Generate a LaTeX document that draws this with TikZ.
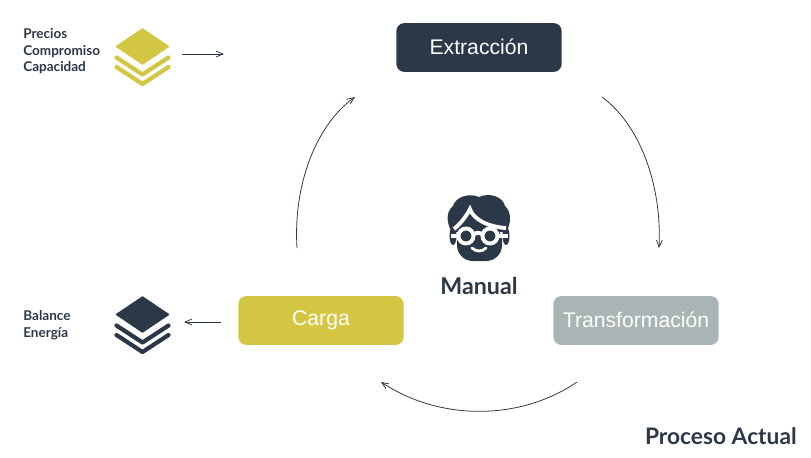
\documentclass[tikz,border=0pt]{standalone}
\usepackage{fontspec}
\setmainfont{Liberation Sans}
\newfontfamily\latofont{Lato}
\usetikzlibrary{arrows,positioning}
\definecolor{navyc}{HTML}{2B3847}
\definecolor{goldc}{HTML}{D3C642}
\definecolor{grayc}{HTML}{A9B4B4}
\tikzstyle{box} = [rounded corners=8*0.5669pt, minimum width=166*0.5669pt, minimum height=49*0.5669pt, inner sep=0pt, text=white, font=\fontsize{12.05}{14}\selectfont]
\tikzstyle{side} = [align=left, inner sep=0pt, text=navyc, font=\latofont\bfseries\fontsize{7.7}{9.4}\selectfont]
\tikzstyle{flow} = [draw=navyc, line width=0.45pt, ->, >=angle 45]
\tikzstyle{rim} = [white, line width=2.2pt]
\begin{document}
\begin{tikzpicture}[x=0.02cm, y=-0.02cm]
	\useasboundingbox (0,0) rectangle (811,457);

	\node [box, fill=navyc] (extraccion) at (479,47.5) {\raisebox{1.1pt}{Extracción}};
	\node [box, fill=grayc] (transformacion) at (636,320.5) {\raisebox{0.6pt}{Transformación}};
	\node [box, fill=goldc] (carga) at (321,320.5) {\raisebox{0.6pt}{Carga}};

	% capas
	\foreach \y/\c in {0/goldc, 268/navyc}{
		\begin{scope}[yshift=-\y*0.02cm]
		\fill [\c, draw=\c, line width=0.8pt, line join=round] (142.5,29) -- (168.5,46.5) -- (142.5,64) -- (116.5,46.5) -- cycle;
		\draw [\c, line width=2.4pt, line cap=round, line join=round] (116.5,57.5) -- (142.5,74.5) -- (168.5,57.5);
		\draw [\c, line width=2.4pt, line cap=round, line join=round] (116.5,67) -- (142.5,84) -- (168.5,67);
		\end{scope}
	}

	\node [side, anchor=west] (entrada) at (23,51.5) {Precios\\Compromiso\\Capacidad};
	\node [side, anchor=west] (salida) at (23,325) {Balance\\Energía};

	\coordinate (a1) at (182,54);
	\coordinate (a2) at (224,54);
	\coordinate (b1) at (221,322);
	\coordinate (b2) at (184,322);
	\draw [flow] (a1) -- (a2);
	\draw [flow] (b1) -- (b2);

	\coordinate (c1) at (602,97);
	\coordinate (c2) at (659,248);
	\coordinate (d1) at (577,382);
	\coordinate (d2) at (381,382);
	\coordinate (e1) at (297,248);
	\coordinate (e2) at (355,97);
	\draw [flow] (c1) .. controls (640,125) and (662,185) .. (c2);
	\draw [flow] (d1) .. controls (520,421) and (440,421) .. (d2);
	\draw [flow] (e1) .. controls (293,185) and (316,125) .. (e2);

	% cara
	\fill [navyc] (452,232) .. controls (447,225) and (445,212) .. (453,206)
		.. controls (456,196) and (470,193) .. (479,197)
		.. controls (490,192) and (503,197) .. (505,206)
		.. controls (512,212) and (511,225) .. (506,232) -- cycle;
	\fill [navyc, rounded corners=9pt] (457,225) -- (457,261) -- (502,261) -- (502,225) -- cycle;
	\fill [navyc] (453,236) ellipse (3.5 and 9);
	\fill [navyc] (506,236) ellipse (3.5 and 9);
	\draw [rim] (451,236) -- (459,236);
	\draw [rim] (498,236) -- (508,236);
	\draw [rim] (473,235) .. controls (476,232) and (480,232) .. (483,235);
	\draw [rim] (466,236) circle (7.5);
	\draw [rim] (490,236) circle (7.5);
	\draw [rim] (454,229) .. controls (460,224) and (466,217) .. (470,209) .. controls (473,219) and (488,227) .. (506,228);
	\draw [white, line width=1.6pt, line cap=round] (472,248) .. controls (476,252) and (482,252) .. (486,248);

	\node [inner sep=0pt, text=navyc, font=\latofont\bfseries\fontsize{13.2}{15}\selectfont] (manual) at (479,286) {Manual};
	\node [inner sep=0pt, text=navyc, font=\latofont\bfseries\fontsize{12.95}{15}\selectfont, anchor=east] (titulo) at (797,436) {Proceso Actual};
\end{tikzpicture}
\end{document}
